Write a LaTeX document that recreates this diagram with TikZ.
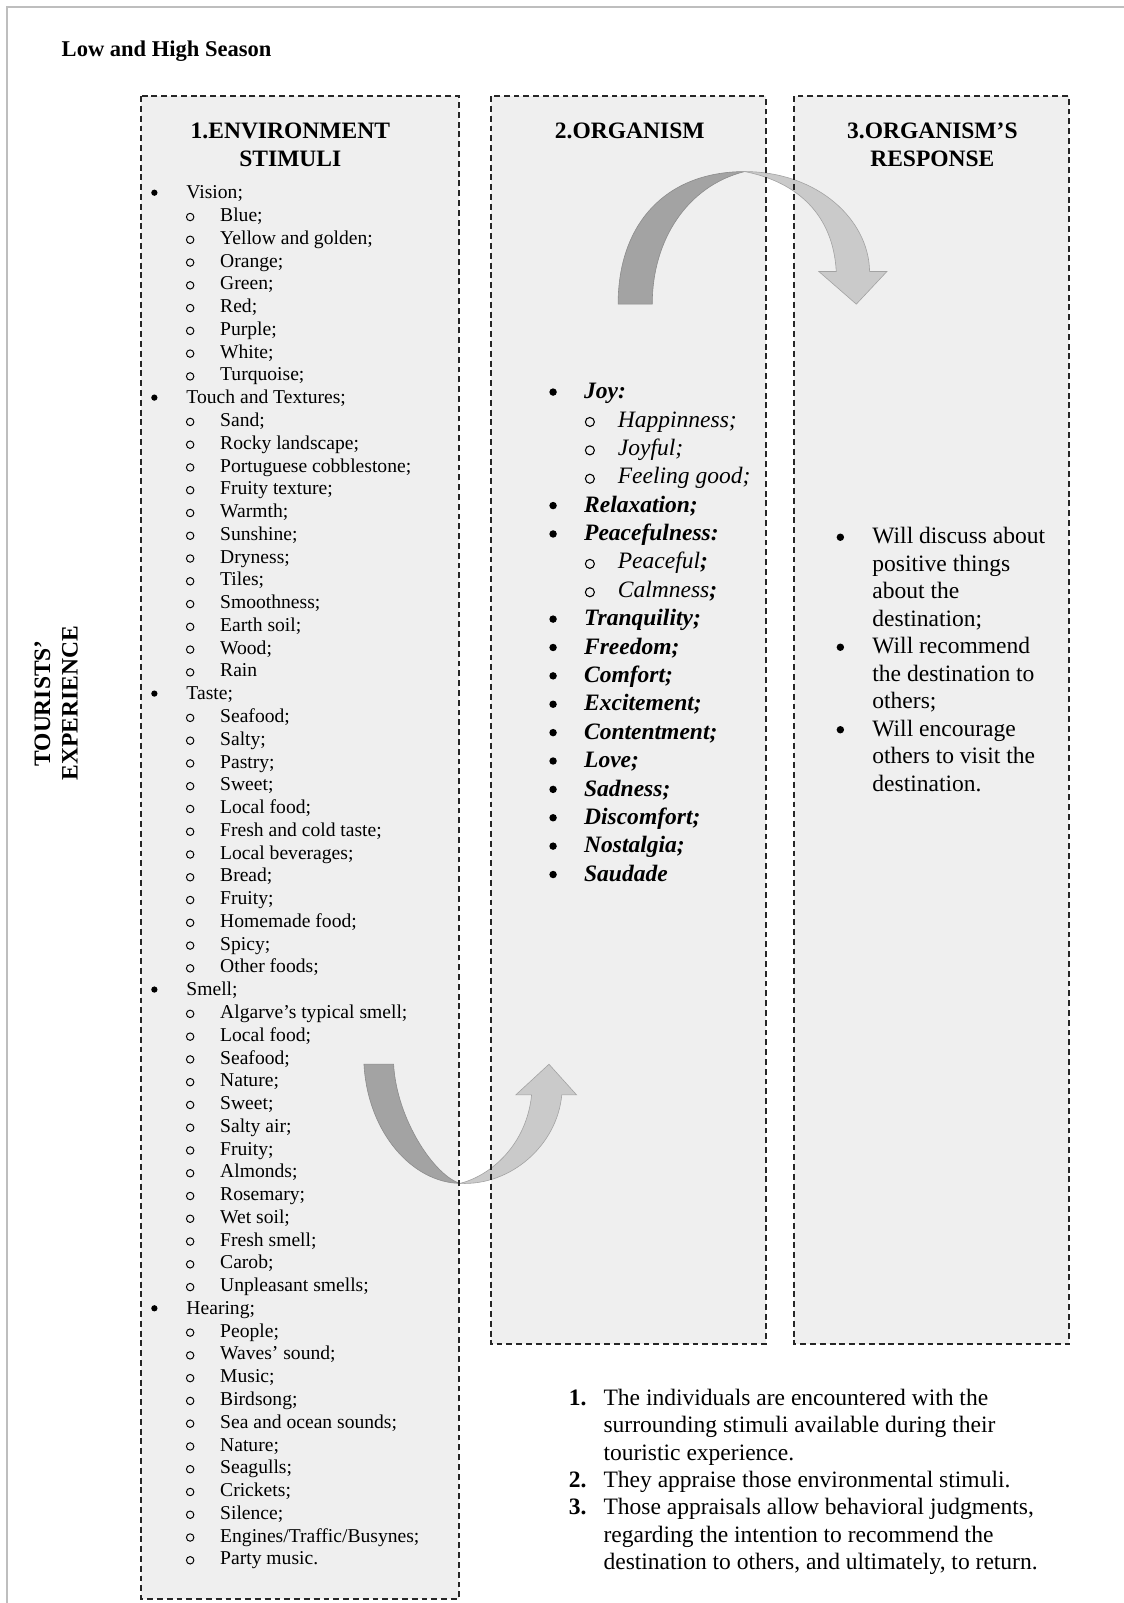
\documentclass[tikz,border=0pt]{standalone}
\usepackage{fontspec}
\setmainfont{Liberation Serif}
\definecolor{box-grey}{RGB}{239,239,239}
\definecolor{arrow-dark}{RGB}{163,163,163}
\definecolor{arrow-light}{RGB}{202,202,202}
\definecolor{page-grey}{RGB}{190,190,190}
\newcommand{\tenpt}{\fontsize{10}{12}\selectfont}
\newcommand{\twelvept}{\fontsize{12}{14}\selectfont}
\tikzset{
  stage/.style={draw=black!85, line width=0.9pt, dash pattern=on 3pt off 2pt},
  head/.style={font=\bfseries\twelvept, anchor=base, inner sep=0pt},
  env-item/.style={font=\tenpt, anchor=base west, inner sep=0pt},
  org-item/.style={font=\bfseries\itshape\twelvept, anchor=base west, inner sep=0pt},
  org-sub/.style={font=\itshape\twelvept, anchor=base west, inner sep=0pt},
  big-item/.style={font=\twelvept, anchor=base west, inner sep=0pt},
  dot/.style={circle, fill=black, inner sep=0pt, minimum size=3.2pt},
  big-dot/.style={circle, fill=black, inner sep=0pt, minimum size=3.8pt},
  ring/.style={circle, draw=black, line width=0.5pt, inner sep=0pt, minimum size=3.8pt},
  big-ring/.style={circle, draw=black, line width=0.55pt, inner sep=0pt, minimum size=4.6pt},
  arrow-part/.style={line width=0.3pt}
}
\begin{document}
\begin{tikzpicture}[x=0.5217pt,y=-0.5217pt]
\useasboundingbox (0,0) rectangle (1099,1568);
\draw[page-grey, line width=1pt] (7.2,1568) -- (7.2,7.2) -- (1099,7.2);
\node[font=\bfseries\fontsize{11.5}{14}\selectfont, anchor=base west, inner sep=0pt] (season) at (60,55) {Low and High Season};
\node[font=\bfseries\twelvept, align=center, rotate=90, inner sep=0pt] (tourists) at (55,688) {TOURISTS’\\EXPERIENCE};

\fill[box-grey] (138,94) rectangle (449,1564);
\fill[box-grey] (480,94) rectangle (749,1315);
\fill[box-grey] (777,94) rectangle (1046,1315);

\filldraw[arrow-part, fill=arrow-dark, draw=arrow-dark!85!black]
  (604.6,297.5) .. controls (604.6,220) and (650,168) .. (728.4,167.8)
  .. controls (672,182) and (638,235) .. (638,297.5) -- cycle;
\filldraw[arrow-part, fill=arrow-light, draw=arrow-light!80!black]
  (728.4,167.8) .. controls (800,168) and (850,215) .. (850.6,265.6)
  -- (867.5,265.6) -- (837.6,297.5) -- (801,265.6) -- (818,265.6)
  .. controls (815,210) and (780,178) .. (728.4,167.8) -- cycle;
\filldraw[arrow-part, fill=arrow-dark, draw=arrow-dark!85!black]
  (356,1041) .. controls (360,1110) and (405,1157) .. (450,1157.5)
  .. controls (425,1150) and (388,1095) .. (385,1041) -- cycle;
\filldraw[arrow-part, fill=arrow-light, draw=arrow-light!80!black]
  (450,1157.5) .. controls (500,1160) and (545,1120) .. (549.5,1071)
  -- (564,1071) -- (537,1041) -- (504.5,1071) -- (520,1071)
  .. controls (515,1120) and (480,1150) .. (450,1157.5) -- cycle;

\draw[stage] (138,94) rectangle (449,1564);
\draw[stage] (480,94) rectangle (749,1315);
\draw[stage] (777,94) rectangle (1046,1315);

\node[head] (env-head-1) at (284,135.5) {1.ENVIRONMENT};
\node[head] (env-head-2) at (284,162.5) {STIMULI};
\node[head] (org-head) at (616,135.5) {2.ORGANISM};
\node[head] (resp-head-1) at (912,135.5) {3.ORGANISM’S};
\node[head] (resp-head-2) at (912,162.5) {RESPONSE};

\foreach \lev/\txt [count=\i from 0, evaluate=\i as \yy using 194.5+22.27*\i] in {
  1/Vision;, 2/Blue;, 2/Yellow and golden;, 2/Orange;, 2/Green;, 2/Red;, 2/Purple;, 2/White;, 2/Turquoise;,
  1/Touch and Textures;, 2/Sand;, 2/Rocky landscape;, 2/Portuguese cobblestone;, 2/Fruity texture;, 2/Warmth;,
  2/Sunshine;, 2/Dryness;, 2/Tiles;, 2/Smoothness;, 2/Earth soil;, 2/Wood;, 2/Rain,
  1/Taste;, 2/Seafood;, 2/Salty;, 2/Pastry;, 2/Sweet;, 2/Local food;, 2/Fresh and cold taste;, 2/Local beverages;,
  2/Bread;, 2/Fruity;, 2/Homemade food;, 2/Spicy;, 2/Other foods;,
  1/Smell;, 2/Algarve’s typical smell;, 2/Local food;, 2/Seafood;, 2/Nature;, 2/Sweet;, 2/Salty air;, 2/Fruity;,
  2/Almonds;, 2/Rosemary;, 2/Wet soil;, 2/Fresh smell;, 2/Carob;, 2/Unpleasant smells;,
  1/Hearing;, 2/People;, 2/Waves’ sound;, 2/Music;, 2/Birdsong;, 2/Sea and ocean sounds;, 2/Nature;, 2/Seagulls;,
  2/Crickets;, 2/Silence;, 2/{Engines/Traffic/Busynes;}, 2/Party music.} {
  \ifnum\lev=1\relax
    \node[dot] (env-mark-\i) at (151,\yy-6) {};
    \node[env-item] (env-\i) at (182,\yy) {\txt};
  \else
    \node[ring] (env-mark-\i) at (186,\yy-4.5) {};
    \node[env-item] (env-\i) at (215,\yy) {\txt};
  \fi
}

\foreach \lev/\txt [count=\i from 0, evaluate=\i as \yy using 390+27.76*\i] in {
  1/Joy:, 2/Happinness;, 2/Joyful;, 2/Feeling good;, 1/Relaxation;, 1/Peacefulness:,
  2/Peaceful\textbf{;}, 2/Calmness\textbf{;}, 1/Tranquility;, 1/Freedom;, 1/Comfort;, 1/Excitement;,
  1/Contentment;, 1/Love;, 1/Sadness;, 1/Discomfort;, 1/Nostalgia;, 1/Saudade} {
  \ifnum\lev=1\relax
    \node[big-dot] (org-mark-\i) at (541,\yy-6.5) {};
    \node[org-item] (org-\i) at (571,\yy) {\txt};
  \else
    \node[big-ring] (org-mark-\i) at (577,\yy-5) {};
    \node[org-sub] (org-\i) at (604,\yy) {\txt};
  \fi
}

\foreach \isbul/\txt [count=\i from 0, evaluate=\i as \yy using 532+26.9*\i] in {
  1/Will discuss about, 0/positive things, 0/about the, 0/destination;, 1/Will recommend,
  0/the destination to, 0/others;, 1/Will encourage, 0/others to visit the, 0/destination.} {
  \ifnum\isbul=1\relax
    \node[big-dot] (resp-mark-\i) at (822,\yy-6.5) {};
  \fi
  \node[big-item] (resp-\i) at (853,\yy) {\txt};
}

\node[big-item, font=\bfseries\twelvept] (num-1) at (556,1375) {1.};
\node[big-item, font=\bfseries\twelvept] (num-2) at (556,1455) {2.};
\node[big-item, font=\bfseries\twelvept] (num-3) at (556,1481.7) {3.};
\foreach \txt [count=\i from 0, evaluate=\i as \yy using 1375+26.67*\i] in {
  The individuals are encountered with the, surrounding stimuli available during their,
  touristic experience., They appraise those environmental stimuli.,
  {Those appraisals allow behavioral judgments,}, regarding the intention to recommend the,
  {destination to others, and ultimately, to return.}} {
  \node[big-item] (note-\i) at (590,\yy) {\txt};
}
\end{tikzpicture}
\end{document}
